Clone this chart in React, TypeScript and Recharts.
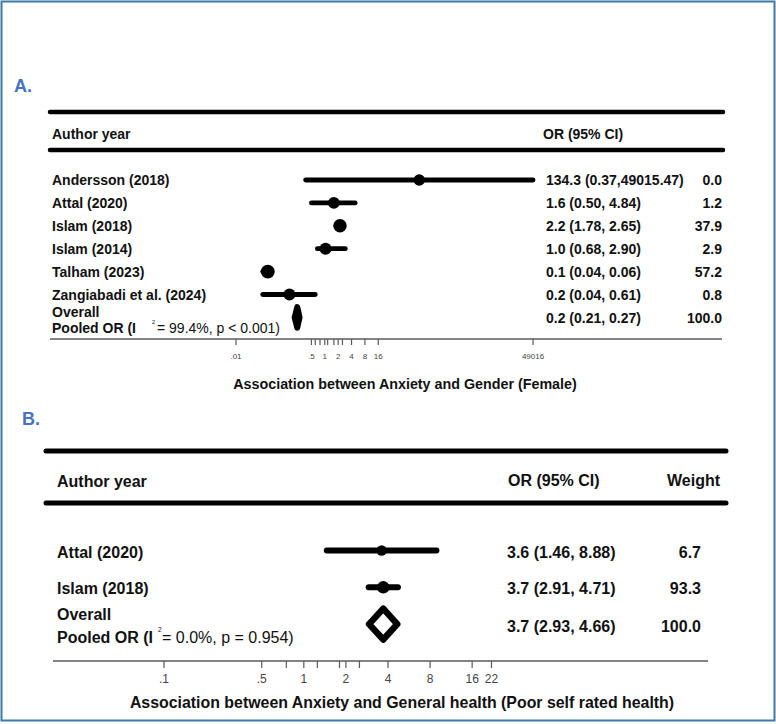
import React from "react";
import {
  ComposedChart,
  Scatter,
  Line,
  XAxis,
  YAxis,
  ReferenceLine,
} from "recharts";

const FONT = '"Liberation Sans", Arial, Helvetica, sans-serif';
const INK = "#111";

// A. Anxiety and gender (female)
const studiesA = [
  "Andersson (2018)",
  "Attal (2020)",
  "Islam (2018)",
  "Islam (2014)",
  "Talham (2023)",
  "Zangiabadi et al. (2024)",
];
const orA = [134.3, 1.6, 2.2, 1.04, 0.052, 0.16];
const lowA = [0.37, 0.5, 1.78, 0.68, 0.04, 0.04];
const highA = [49015.47, 4.84, 2.65, 2.9, 0.06, 0.61];
const weightA = [0.0, 1.2, 37.9, 2.9, 57.2, 0.8];
const pooledOrA = 0.24;
const pooledLowA = 0.21;
const pooledHighA = 0.27;
const i2A = "99.4%";
const pA = "p < 0.001";
const ticksA = [0.01, 0.5, 0.61, 0.78, 1, 1.16, 1.6, 2, 2.5, 4, 8, 16, 49016];
const tickLabelsA = [0.01, 0.5, 1, 2, 4, 8, 16, 49016];

// B. Anxiety and general health (poor self rated health)
const studiesB = ["Attal (2020)", "Islam (2018)"];
const orB = [3.6, 3.7];
const lowB = [1.46, 2.91];
const highB = [8.88, 4.71];
const weightB = [6.7, 93.3];
const pooledOrB = 3.7;
const pooledLowB = 2.93;
const pooledHighB = 4.66;
const i2B = "0.0%";
const pB = "p = 0.954";
const ticksB = [0.1, 0.5, 0.75, 1, 1.25, 1.8, 2, 2.5, 4, 8, 16, 22];
const tickLabelsB = [0.1, 0.5, 1, 2, 4, 8, 16, 22];

const fmtCI = (or: number, lo: number, hi: number) =>
  `${or.toFixed(1)} (${lo.toFixed(2)},${hi >= 1000 ? "" : " "}${hi.toFixed(2)})`;

const tickText = (labels: number[]) => (v: number) =>
  labels.includes(v) ? (v < 1 ? String(v).replace(/^0/, "") : String(v)) : "";

const buildRows = (
  names: string[],
  or: number[],
  lo: number[],
  hi: number[],
  w: number[]
) => names.map((name, i) => ({ name, or: or[i], low: lo[i], high: hi[i], weight: w[i], row: i }));

// closed diamond path through the pooled estimate and its CI
const diamond = (or: number, lo: number, hi: number, row: number, h: number) => [
  { or: lo, row },
  { or, row: row - h },
  { or: hi, row },
  { or, row: row + h },
  { or: lo, row },
];

const rowsA = buildRows(studiesA, orA, lowA, highA, weightA);
const rowsB = buildRows(studiesB, orB, lowB, highB, weightB);
const overallA = studiesA.length;
const overallB = studiesB.length;

type TableCfg = {
  i2: string;
  p: string;
  size: number;
  nameX: number;
  orX: number;
  wX: number;
  overallDy: number;
  pooledDy: number;
  valueDy: number;
  rowDy: number;
  supX: number;
  eqX: number;
};

// text columns of one row, placed at the row's y from the chart scale
const RowText = ({ cy, payload, cfg }: any) => {
  const c: TableCfg = cfg;
  const r = payload;
  const base = { fontFamily: FONT, fontSize: c.size, fill: INK, dominantBaseline: "central" as const };
  const ci = fmtCI(r.or, r.low, r.high);
  if (!r.pooled) {
    return (
      <g>
        <text {...base} x={c.nameX} y={cy + c.rowDy} fontWeight={700}>{r.name}</text>
        <text {...base} x={c.orX} y={cy + c.rowDy} fontWeight={700}>{ci}</text>
        <text {...base} x={c.wX} y={cy + c.rowDy} fontWeight={700} textAnchor="end">{r.weight.toFixed(1)}</text>
      </g>
    );
  }
  return (
    <g>
      <text {...base} x={c.nameX} y={cy + c.overallDy} fontWeight={700}>Overall</text>
      <text {...base} x={c.nameX} y={cy + c.pooledDy} fontWeight={700}>Pooled OR (I</text>
      <text {...base} x={c.supX} y={cy + c.pooledDy - c.size * 0.45} fontSize={c.size * 0.4}>2</text>
      <text {...base} x={c.eqX} y={cy + c.pooledDy}>{`= ${c.i2}, ${c.p})`}</text>
      <text {...base} x={c.orX} y={cy + c.valueDy} fontWeight={700}>{ci}</text>
      <text {...base} x={c.wX} y={cy + c.valueDy} fontWeight={700} textAnchor="end">{r.weight.toFixed(1)}</text>
    </g>
  );
};

const markerR = (w: number, base: number) => base + Math.sqrt(w) * 0.15;

const cfgA: TableCfg = {
  i2: i2A,
  p: pA,
  size: 14,
  nameX: 52,
  orX: 546,
  wX: 722,
  overallDy: -5.5,
  pooledDy: 10.5,
  valueDy: 0.5,
  rowDy: 0.5,
  supX: 152,
  eqX: 157,
};

const cfgB: TableCfg = {
  i2: i2B,
  p: pB,
  size: 16,
  nameX: 57,
  orX: 507,
  wX: 701,
  overallDy: -10,
  pooledDy: 13,
  valueDy: 2.5,
  rowDy: 1.5,
  supX: 158,
  eqX: 162,
};

const domainA = [Math.pow(10, -6.189), Math.pow(10, 8.946)];
const domainB = [Math.pow(10, -1.794), Math.pow(10, 2.891)];

function Forest({
  rows,
  overall,
  pooledOr,
  pooledLow,
  pooledHigh,
  cfg,
  xDomain,
  yDomain,
  ticks,
  tickLabels,
  height,
  margin,
  axisH,
  tickFont,
  tickGap,
  ciWidth,
  dotBase,
  diamondStroke,
  diamondH,
}: any) {
  const pooledRow = { name: "Overall", or: pooledOr, low: pooledLow, high: pooledHigh, weight: 100, row: overall, pooled: true };
  return (
    <ComposedChart width={776} height={height} margin={margin}>
      <XAxis
        type="number"
        dataKey="or"
        scale="log"
        domain={xDomain}
        allowDataOverflow
        ticks={ticks}
        interval={0}
        tickFormatter={tickText(tickLabels)}
        height={axisH}
        tickSize={tickFont > 10 ? 7 : 6}
        tickMargin={tickGap}
        tick={{ fontSize: tickFont, fill: "#444", fontFamily: FONT }}
        axisLine={{ stroke: "#5a5a5a", strokeWidth: 1.4 }}
        tickLine={{ stroke: "#5a5a5a", strokeWidth: 1.2 }}
      />
      <YAxis
        type="number"
        dataKey="row"
        domain={yDomain}
        allowDataOverflow
        reversed
        hide
      />
      {rows.map((r: any) => (
        <ReferenceLine
          key={r.name}
          segment={[
            { x: r.low, y: r.row },
            { x: r.high, y: r.row },
          ]}
          stroke="#000"
          strokeWidth={ciWidth}
          strokeLinecap="round"
        />
      ))}
      <Scatter
        data={rows}
        isAnimationActive={false}
        shape={(p: any) => (
          <circle cx={p.cx} cy={p.cy} r={markerR(p.payload.weight, dotBase)} fill="#000" />
        )}
      />
      <Line
        data={diamond(pooledOr, pooledLow, pooledHigh, overall, diamondH)}
        dataKey="row"
        type="linear"
        stroke="#000"
        strokeWidth={diamondStroke}
        strokeLinejoin="round"
        strokeLinecap="round"
        fill="none"
        dot={false}
        activeDot={false}
        isAnimationActive={false}
      />
      <Scatter
        data={[...rows, pooledRow]}
        isAnimationActive={false}
        shape={(p: any) => <RowText cy={p.cy} payload={p.payload} cfg={cfg} />}
      />
    </ComposedChart>
  );
}

export default function App() {
  const text = { fontFamily: FONT, fill: INK, dominantBaseline: "central" as const };
  return (
    <div style={{ position: "absolute", left: 0, top: 0, width: 776, height: 724, background: "#fff" }}>
      <svg width={776} height={724} style={{ position: "absolute", left: 0, top: 0 }}>
        <rect x={1.5} y={1.5} width={773} height={719} fill="none" stroke="#3f7aa3" strokeWidth={2} />
        <text {...text} x={14} y={86} fontSize={18} fontWeight={700} fill="#4472c4">A.</text>
        <line x1={50} x2={723} y1={112} y2={112} stroke="#000" strokeWidth={4.5} strokeLinecap="round" />
        <line x1={50} x2={723} y1={150} y2={150} stroke="#000" strokeWidth={4.5} strokeLinecap="round" />
        <text {...text} x={52} y={134} fontSize={14} fontWeight={700}>Author year</text>
        <text {...text} x={543} y={133.5} fontSize={14} fontWeight={700}>OR (95% CI)</text>
        <text {...text} x={405} y={384} fontSize={14.3} fontWeight={700} textAnchor="middle">
          Association between Anxiety and Gender (Female)
        </text>

        <text {...text} x={22} y={419} fontSize={18} fontWeight={700} fill="#4472c4">B.</text>
        <line x1={46} x2={726} y1={451} y2={451} stroke="#000" strokeWidth={5} strokeLinecap="round" />
        <line x1={46} x2={726} y1={503} y2={503} stroke="#000" strokeWidth={5} strokeLinecap="round" />
        <text {...text} x={57} y={481} fontSize={16} fontWeight={700}>Author year</text>
        <text {...text} x={508} y={480} fontSize={16} fontWeight={700}>OR (95% CI)</text>
        <text {...text} x={667} y={480} fontSize={16} fontWeight={700}>Weight</text>
        <text {...text} x={402} y={702} fontSize={15.9} fontWeight={700} textAnchor="middle">
          Association between Anxiety and General health (Poor self rated health)
        </text>
      </svg>

      <div style={{ position: "absolute", left: 0, top: 0 }}>
        <Forest
          rows={rowsA}
          overall={overallA}
          pooledOr={pooledOrA}
          pooledLow={pooledLowA}
          pooledHigh={pooledHighA}
          cfg={cfgA}
          xDomain={domainA}
          yDomain={[-0.873, 6.943]}
          ticks={ticksA}
          tickLabels={tickLabelsA}
          height={400}
          margin={{ top: 160, right: 54, bottom: 0, left: 50 }}
          axisH={61}
          tickFont={8}
          tickGap={8}
          ciWidth={4.8}
          dotBase={5.8}
          diamondStroke={6}
          diamondH={0.45}
        />
      </div>
      <div style={{ position: "absolute", left: 0, top: 440 }}>
        <Forest
          rows={rowsB}
          overall={overallB}
          pooledOr={pooledOrB}
          pooledLow={pooledLowB}
          pooledHigh={pooledHighB}
          cfg={cfgB}
          xDomain={domainB}
          yDomain={[-0.829, 3.003]}
          ticks={ticksB}
          tickLabels={tickLabelsB}
          height={261}
          margin={{ top: 80, right: 68, bottom: 0, left: 53 }}
          axisH={40}
          tickFont={12}
          tickGap={6}
          ciWidth={6}
          dotBase={4.8}
          diamondStroke={6.5}
          diamondH={0.42}
        />
      </div>
    </div>
  );
}
